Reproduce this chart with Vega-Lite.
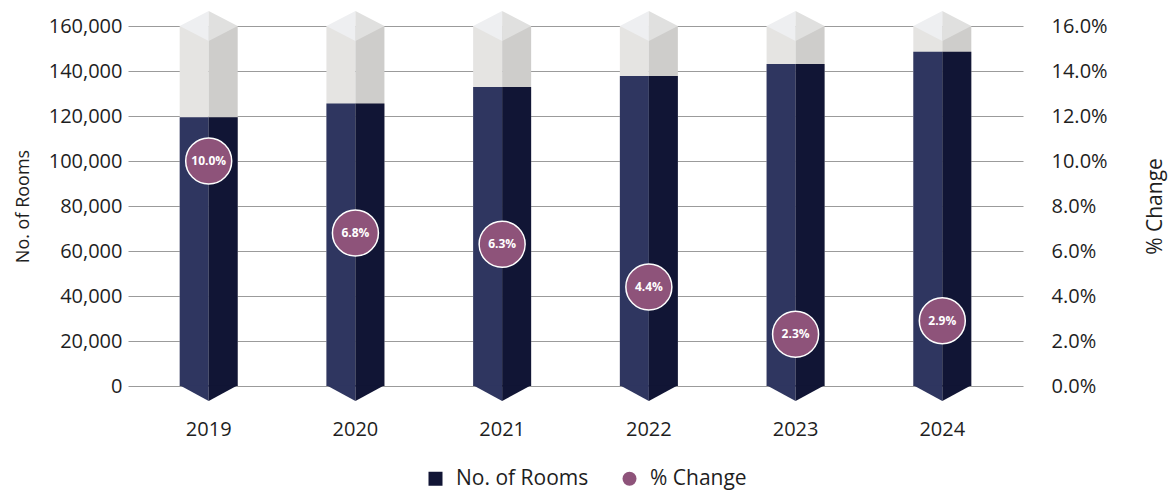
{
  "$schema": "https://vega.github.io/schema/vega-lite/v6.json",
  "width": 895,
  "height": 360,
  "autosize": {"type": "none"},
  "padding": {"left": 128, "top": 26, "right": 149, "bottom": 106},
  "background": "white",
  "config": {
    "view": {"stroke": null},
    "font": "Open Sans",
    "axis": {"labelFont": "Open Sans", "titleFont": "Open Sans", "labelColor": "#1e1e1e", "titleColor": "#1e1e1e", "titleFontWeight": "normal"},
    "legend": {"labelFont": "Open Sans", "labelColor": "#1e1e1e"}
  },
  "data": {
    "values": [
      {"year": "2019", "rooms": 119500, "pct": 0.100},
      {"year": "2020", "rooms": 125600, "pct": 0.068},
      {"year": "2021", "rooms": 132900, "pct": 0.063},
      {"year": "2022", "rooms": 137800, "pct": 0.044},
      {"year": "2023", "rooms": 143100, "pct": 0.023},
      {"year": "2024", "rooms": 148600, "pct": 0.029}
    ]
  },
  "encoding": {
    "x": {
      "field": "year", "type": "nominal",
      "scale": {"paddingInner": 0, "paddingOuter": 0.05},
      "axis": {"title": null, "labelAngle": 0, "domain": false, "ticks": false, "labelPadding": 33, "labelFontSize": 20}
    }
  },
  "layer": [
    {
      "layer": [
        {
          "mark": {"type": "bar", "width": 29, "xOffset": -14.5, "color": "#e5e4e2"},
          "encoding": {"y": {"datum": 160000, "type": "quantitative", "title": "No. of Rooms", "scale": {"domain": [0, 160000], "nice": false}, "axis": {"title": "No. of Rooms", "titleFontSize": 18, "titlePadding": 16, "labelFontSize": 20, "values": [0, 20000, 40000, 60000, 80000, 100000, 120000, 140000, 160000], "format": ",.0f", "domain": false, "ticks": false, "labelPadding": 6, "grid": true, "gridColor": "#9b9b9b", "gridWidth": 1}}}
        },
        {
          "mark": {"type": "bar", "width": 29, "xOffset": 14.5, "color": "#cecdcb"},
          "encoding": {"y": {"datum": 160000, "type": "quantitative", "title": "No. of Rooms"}}
        },
        {
          "mark": {"type": "point", "shape": "M -1 0 L 0 -0.52 L 0 0.52 Z", "size": 3364, "filled": true, "opacity": 1, "strokeWidth": 0, "color": "#eeeff1"},
          "encoding": {"y": {"datum": 160000, "type": "quantitative", "title": "No. of Rooms"}}
        },
        {
          "mark": {"type": "point", "shape": "M 1 0 L 0 -0.52 L 0 0.52 Z", "size": 3364, "filled": true, "opacity": 1, "strokeWidth": 0, "color": "#e0e0df"},
          "encoding": {"y": {"datum": 160000, "type": "quantitative", "title": "No. of Rooms"}}
        },
        {
          "mark": {"type": "bar", "width": 29, "xOffset": -14.5, "color": "#2f3660"},
          "encoding": {"y": {"field": "rooms", "type": "quantitative", "title": "No. of Rooms"}}
        },
        {
          "mark": {"type": "bar", "width": 29, "xOffset": 14.5},
          "encoding": {
            "y": {"field": "rooms", "type": "quantitative", "title": "No. of Rooms"},
            "color": {"datum": "No. of Rooms", "scale": {"domain": ["No. of Rooms", "% Change"], "range": ["#111535", "#8e537a"]}, "legend": {"title": null, "orient": "none", "legendX": 297, "legendY": 442, "direction": "horizontal", "labelFontSize": 21, "symbolSize": 196, "labelOffset": 10, "columnPadding": 30, "symbolStrokeWidth": 0, "symbolOpacity": 1}}
          }
        },
        {
          "mark": {"type": "point", "shape": "M -1 -0.03 L 0 -0.03 L 0 0.52 Z", "size": 3364, "filled": true, "opacity": 1, "strokeWidth": 0, "color": "#2f3660"},
          "encoding": {"y": {"datum": 0, "type": "quantitative", "title": "No. of Rooms"}}
        },
        {
          "mark": {"type": "point", "shape": "M 1 -0.03 L 0 -0.03 L 0 0.52 Z", "size": 3364, "filled": true, "opacity": 1, "strokeWidth": 0, "color": "#111535"},
          "encoding": {"y": {"datum": 0, "type": "quantitative", "title": "No. of Rooms"}}
        }
      ]
    },
    {
      "layer": [
        {
          "mark": {"type": "point", "filled": true, "opacity": 1, "size": 2116, "stroke": "white", "strokeWidth": 1.5},
          "encoding": {
            "y": {"field": "pct", "type": "quantitative", "title": "% Change", "scale": {"domain": [0, 0.16], "nice": false}, "axis": {"orient": "right", "title": "% Change", "format": ".1%", "values": [0, 0.02, 0.04, 0.06, 0.08, 0.1, 0.12, 0.14, 0.16], "grid": false, "domain": false, "ticks": false, "labelPadding": 28, "labelFontSize": 20, "titleFontSize": 21, "titleAngle": 270, "titlePadding": 58}},
            "color": {"datum": "% Change", "legend": {"title": null, "orient": "none", "legendX": 297, "legendY": 442, "direction": "horizontal", "labelFontSize": 21, "symbolSize": 196, "labelOffset": 10, "columnPadding": 30, "symbolStrokeWidth": 0, "symbolOpacity": 1}},
            "shape": {"datum": "% Change", "scale": {"domain": ["No. of Rooms", "% Change"], "range": ["square", "circle"]}, "legend": {"title": null, "orient": "none", "legendX": 297, "legendY": 442, "direction": "horizontal", "labelFontSize": 21, "symbolSize": 196, "labelOffset": 10, "columnPadding": 30, "symbolStrokeWidth": 0, "symbolOpacity": 1}}
          }
        },
        {
          "mark": {"type": "text", "color": "white", "fontWeight": "bold", "fontSize": 12, "font": "Open Sans"},
          "encoding": {
            "y": {"field": "pct", "type": "quantitative", "title": "% Change"},
            "text": {"field": "pct", "format": ".1%"}
          }
        }
      ]
    }
  ],
  "resolve": {"scale": {"y": "independent"}}
}
